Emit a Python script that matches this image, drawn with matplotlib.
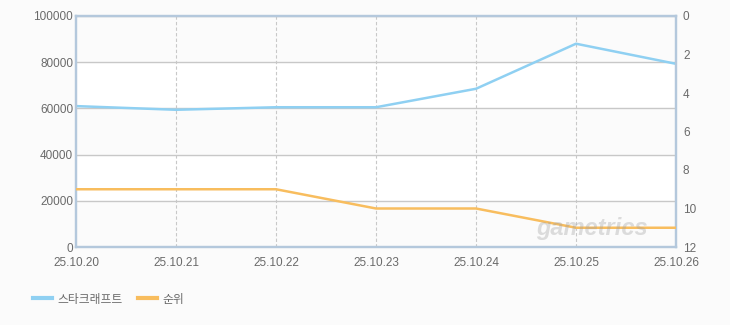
import numpy as np
import matplotlib
matplotlib.use("Agg")
from matplotlib import pyplot as plt
from matplotlib.lines import Line2D

plt.rcParams['font.family'] = ['Liberation Sans', 'Noto Sans CJK KR']

dates = ['25.10.20', '25.10.21', '25.10.22', '25.10.23', '25.10.24', '25.10.25', '25.10.26']
starcraft = [61000, 59400, 60500, 60500, 68500, 88000, 79300]
rank = [9, 9, 9, 10, 10, 11, 11]

W, H = 730, 325
fig = plt.figure(figsize=(W / 100, H / 100), dpi=100)
fig.patch.set_facecolor('#fbfbfb')
ax = fig.add_axes([76 / W, 1 - 247 / H, 600 / W, 231 / H])
ax2 = ax.twinx()

x = np.arange(len(dates))
ax.set_xlim(0, len(dates) - 1)
ax.set_ylim(0, 100000)
ax.set_facecolor('white')
# alternating bands
for lo in (0, 40000, 80000):
    ax.axhspan(lo, lo + 20000, color='#fbfbfb', zorder=0)

ax.set_yticks(np.arange(0, 100001, 20000))
ax.set_xticks(x)
ax.set_xticklabels(dates)
ax.grid(axis='y', color='#c8c8c8', linewidth=1, linestyle='-')
for xi in x[1:-1]:
    ax.axvline(xi, color='#c8c8c8', linewidth=0.8, linestyle=(0, (3, 2)), zorder=1)
ax.set_axisbelow(True)

for a in (ax, ax2):
    for s in a.spines.values():
        s.set_color('#b4c8dc')
        s.set_linewidth(1.6)
    a.tick_params(length=0, labelsize=8.5, colors='#6a6a6a', pad=2)
ax.tick_params(axis='x', pad=7)

ax2.set_ylim(12, 0)
ax2.set_yticks(np.arange(0, 13, 2))
ax2.tick_params(pad=5)

ax.plot(x, starcraft, color='#8fd0f2', linewidth=1.8, zorder=3)
ax2.plot(x, rank, color='#f8bd5e', linewidth=1.8, zorder=3)

ax2.text(0.86, 0.08, 'gametrics', transform=ax2.transAxes, fontsize=17,
         style='italic', fontweight='bold', color='#a0a0a0', alpha=0.35,
         ha='center', va='center', zorder=5)

handles = [Line2D([], [], color='#8fd0f2', linewidth=3),
           Line2D([], [], color='#f8bd5e', linewidth=3)]
fig.legend(handles, ['스타크래프트', '순위'], loc='center left',
           bbox_to_anchor=(22 / W, 1 - 299 / H), ncol=2, frameon=False,
           prop={'family': ['Noto Sans CJK KR', 'DejaVu Sans'], 'size': 8.5},
           labelcolor='#6a6a6a', handlelength=1.6, columnspacing=1.3,
           handletextpad=0.5)

fig.savefig('out.png', dpi=100, facecolor=fig.get_facecolor())
